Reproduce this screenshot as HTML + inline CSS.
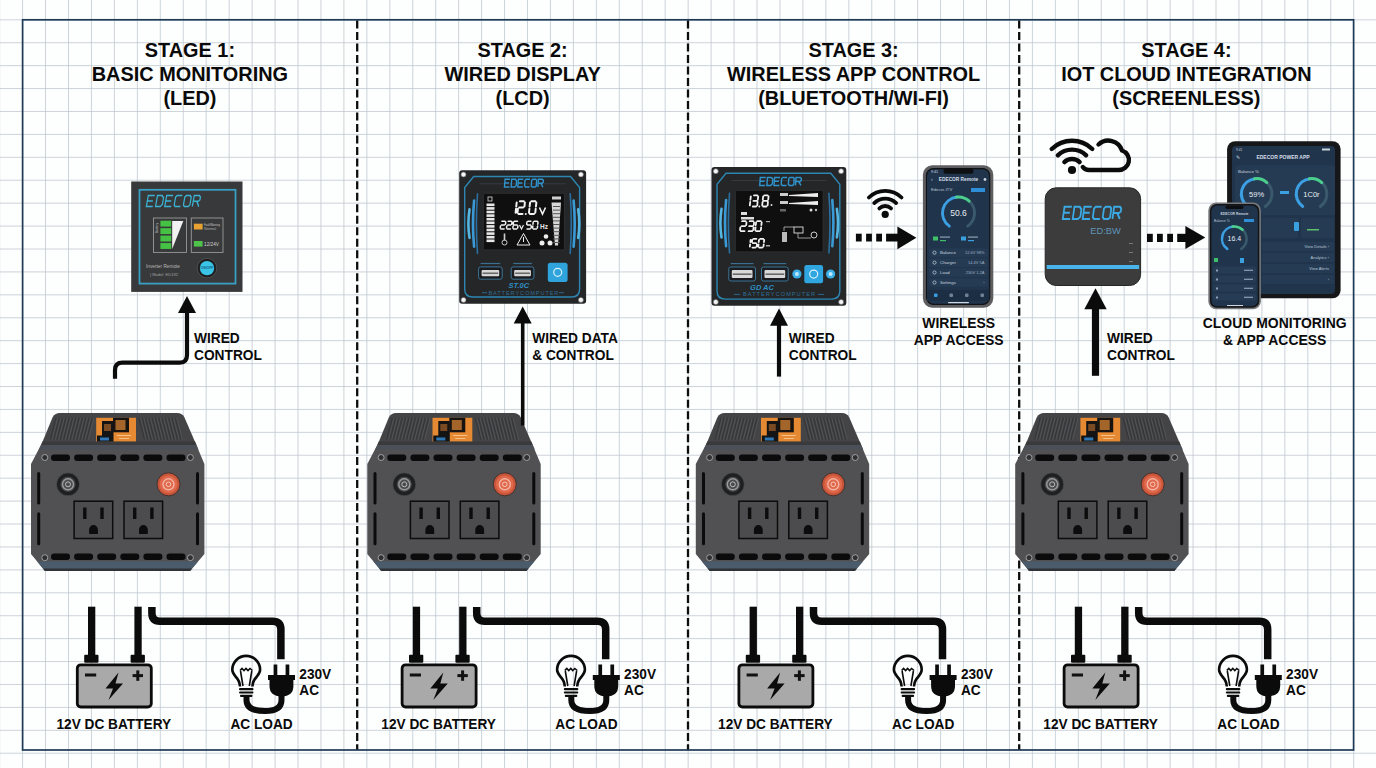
<!DOCTYPE html><html><head><meta charset="utf-8"><style>
html,body{margin:0;padding:0;background:#fdfefe;width:1376px;height:768px;overflow:hidden}
svg{display:block}
text{font-family:"Liberation Sans", sans-serif;}
</style></head><body>
<svg width="1376" height="768" viewBox="0 0 1376 768">
<defs>
<g id="inv">
<path d="M21.5 4.5 Q23.5 0 29 0 L146 0 Q151.5 0 153.5 4.5 L164.5 30 L11 30 Z" fill="#444446"/>
<line x1="25.0" y1="5" x2="19.5" y2="26.5" stroke="#36373a" stroke-width="1.2"/><line x1="26.6" y1="5" x2="21.1" y2="26.5" stroke="#545558" stroke-width="0.9"/><line x1="28.3" y1="5" x2="22.8" y2="26.5" stroke="#36373a" stroke-width="1.2"/><line x1="29.9" y1="5" x2="24.4" y2="26.5" stroke="#545558" stroke-width="0.9"/><line x1="31.6" y1="5" x2="26.1" y2="26.5" stroke="#36373a" stroke-width="1.2"/><line x1="33.2" y1="5" x2="27.7" y2="26.5" stroke="#545558" stroke-width="0.9"/><line x1="34.9" y1="5" x2="29.4" y2="26.5" stroke="#36373a" stroke-width="1.2"/><line x1="36.5" y1="5" x2="31.0" y2="26.5" stroke="#545558" stroke-width="0.9"/><line x1="38.2" y1="5" x2="32.7" y2="26.5" stroke="#36373a" stroke-width="1.2"/><line x1="39.8" y1="5" x2="34.3" y2="26.5" stroke="#545558" stroke-width="0.9"/><line x1="41.5" y1="5" x2="36.0" y2="26.5" stroke="#36373a" stroke-width="1.2"/><line x1="43.1" y1="5" x2="37.6" y2="26.5" stroke="#545558" stroke-width="0.9"/><line x1="44.8" y1="5" x2="39.3" y2="26.5" stroke="#36373a" stroke-width="1.2"/><line x1="46.4" y1="5" x2="40.9" y2="26.5" stroke="#545558" stroke-width="0.9"/><line x1="48.1" y1="5" x2="42.6" y2="26.5" stroke="#36373a" stroke-width="1.2"/><line x1="49.7" y1="5" x2="44.2" y2="26.5" stroke="#545558" stroke-width="0.9"/><line x1="51.4" y1="5" x2="45.9" y2="26.5" stroke="#36373a" stroke-width="1.2"/><line x1="53.0" y1="5" x2="47.5" y2="26.5" stroke="#545558" stroke-width="0.9"/><line x1="54.7" y1="5" x2="49.2" y2="26.5" stroke="#36373a" stroke-width="1.2"/><line x1="56.3" y1="5" x2="50.8" y2="26.5" stroke="#545558" stroke-width="0.9"/><line x1="58.0" y1="5" x2="52.5" y2="26.5" stroke="#36373a" stroke-width="1.2"/><line x1="59.6" y1="5" x2="54.1" y2="26.5" stroke="#545558" stroke-width="0.9"/><line x1="61.3" y1="5" x2="55.8" y2="26.5" stroke="#36373a" stroke-width="1.2"/><line x1="62.9" y1="5" x2="57.4" y2="26.5" stroke="#545558" stroke-width="0.9"/><line x1="108.0" y1="5" x2="113.5" y2="26.5" stroke="#36373a" stroke-width="1.2"/><line x1="109.6" y1="5" x2="115.1" y2="26.5" stroke="#545558" stroke-width="0.9"/><line x1="111.3" y1="5" x2="116.8" y2="26.5" stroke="#36373a" stroke-width="1.2"/><line x1="112.9" y1="5" x2="118.4" y2="26.5" stroke="#545558" stroke-width="0.9"/><line x1="114.6" y1="5" x2="120.1" y2="26.5" stroke="#36373a" stroke-width="1.2"/><line x1="116.2" y1="5" x2="121.7" y2="26.5" stroke="#545558" stroke-width="0.9"/><line x1="117.9" y1="5" x2="123.4" y2="26.5" stroke="#36373a" stroke-width="1.2"/><line x1="119.5" y1="5" x2="125.0" y2="26.5" stroke="#545558" stroke-width="0.9"/><line x1="121.2" y1="5" x2="126.7" y2="26.5" stroke="#36373a" stroke-width="1.2"/><line x1="122.8" y1="5" x2="128.3" y2="26.5" stroke="#545558" stroke-width="0.9"/><line x1="124.5" y1="5" x2="130.0" y2="26.5" stroke="#36373a" stroke-width="1.2"/><line x1="126.1" y1="5" x2="131.6" y2="26.5" stroke="#545558" stroke-width="0.9"/><line x1="127.8" y1="5" x2="133.3" y2="26.5" stroke="#36373a" stroke-width="1.2"/><line x1="129.4" y1="5" x2="134.9" y2="26.5" stroke="#545558" stroke-width="0.9"/><line x1="131.1" y1="5" x2="136.6" y2="26.5" stroke="#36373a" stroke-width="1.2"/><line x1="132.7" y1="5" x2="138.2" y2="26.5" stroke="#545558" stroke-width="0.9"/><line x1="134.4" y1="5" x2="139.9" y2="26.5" stroke="#36373a" stroke-width="1.2"/><line x1="136.0" y1="5" x2="141.5" y2="26.5" stroke="#545558" stroke-width="0.9"/><line x1="137.7" y1="5" x2="143.2" y2="26.5" stroke="#36373a" stroke-width="1.2"/><line x1="139.3" y1="5" x2="144.8" y2="26.5" stroke="#545558" stroke-width="0.9"/><line x1="141.0" y1="5" x2="146.5" y2="26.5" stroke="#36373a" stroke-width="1.2"/><line x1="142.6" y1="5" x2="148.1" y2="26.5" stroke="#545558" stroke-width="0.9"/><line x1="144.3" y1="5" x2="149.8" y2="26.5" stroke="#36373a" stroke-width="1.2"/><line x1="145.9" y1="5" x2="151.4" y2="26.5" stroke="#545558" stroke-width="0.9"/>
<rect x="65.2" y="4.8" width="39.8" height="24" fill="#e58a32"/>
<rect x="71" y="8" width="11.5" height="15" fill="#141414"/>
<rect x="73" y="11" width="7" height="7" fill="#7a4a22"/>
<rect x="66" y="22.5" width="16.5" height="6.3" fill="#121416"/>
<rect x="69" y="24.5" width="9" height="3" fill="#2e78b8"/>
<rect x="82" y="4.8" width="16" height="14.5" fill="#161311"/>
<rect x="84.5" y="7" width="10" height="10" fill="#a4652a"/>
<rect x="86" y="22" width="14" height="1" fill="#f3c08a"/><rect x="88" y="25" width="10" height="1" fill="#f3c08a"/>
<path d="M11 30 L164.5 30 L173.4 51 L173.4 141 L159 158 L14 158 L0 141 L0 51 Z" fill="#515153"/>
<path d="M11.5 28.5 L164 28.5 L165.5 32 L10 32 Z" fill="#3a3a3c"/><path d="M10 32 L165.5 32 L167.5 36.5 L8 36.5 Z" fill="#4b5058"/>
<path d="M6.2 148.5 L14 158 L159 158 L167 148.5 Z" fill="#4a5c6c"/><path d="M12 155.5 L161.2 155.5 L159 158 L14 158 Z" fill="#303236"/>
<rect x="20.0" y="41.5" width="19" height="6.5" rx="3" fill="#0b0b0c"/><rect x="43.1" y="41.5" width="19" height="6.5" rx="3" fill="#0b0b0c"/><rect x="66.2" y="41.5" width="19" height="6.5" rx="3" fill="#0b0b0c"/><rect x="89.3" y="41.5" width="19" height="6.5" rx="3" fill="#0b0b0c"/><rect x="112.4" y="41.5" width="19" height="6.5" rx="3" fill="#0b0b0c"/><rect x="135.5" y="41.5" width="19" height="6.5" rx="3" fill="#0b0b0c"/><rect x="20.0" y="140.5" width="19" height="6.5" rx="3" fill="#0b0b0c"/><rect x="43.1" y="140.5" width="19" height="6.5" rx="3" fill="#0b0b0c"/><rect x="66.2" y="140.5" width="19" height="6.5" rx="3" fill="#0b0b0c"/><rect x="89.3" y="140.5" width="19" height="6.5" rx="3" fill="#0b0b0c"/><rect x="112.4" y="140.5" width="19" height="6.5" rx="3" fill="#0b0b0c"/><rect x="135.5" y="140.5" width="19" height="6.5" rx="3" fill="#0b0b0c"/>
<circle cx="13.8" cy="44.5" r="3" fill="#2f3032" stroke="#a9a9a9" stroke-width="0.9"/>
<circle cx="159.4" cy="44.5" r="3" fill="#2f3032" stroke="#a9a9a9" stroke-width="0.9"/>
<circle cx="13.8" cy="144.7" r="3" fill="#2f3032" stroke="#a9a9a9" stroke-width="0.9"/>
<circle cx="159.4" cy="144.7" r="3" fill="#2f3032" stroke="#a9a9a9" stroke-width="0.9"/>
<rect x="6.2" y="59" width="3" height="32.4" rx="1.5" fill="#0b0b0c"/>
<rect x="6.2" y="99.3" width="3" height="33" rx="1.5" fill="#0b0b0c"/>
<rect x="165" y="59" width="3" height="32.4" rx="1.5" fill="#0b0b0c"/>
<rect x="165" y="99.3" width="3" height="33" rx="1.5" fill="#0b0b0c"/>
<circle cx="37" cy="71.3" r="11.5" fill="#1f2022" stroke="#555" stroke-width="0.6"/>
<circle cx="37" cy="71.3" r="7.5" fill="#4a4b4d"/>
<circle cx="37" cy="71.3" r="5.5" fill="none" stroke="#9b9b9b" stroke-width="1.4"/>
<circle cx="37" cy="71.3" r="2.5" fill="none" stroke="#bdbdbd" stroke-width="1"/>
<circle cx="137.5" cy="71.3" r="11.5" fill="#c9553a" stroke="#2a2a2a" stroke-width="0.8"/>
<circle cx="137.5" cy="71.3" r="8.8" fill="#e0694c"/>
<circle cx="137.5" cy="71.3" r="5.5" fill="none" stroke="#f4b3a2" stroke-width="1.4"/>
<circle cx="137.5" cy="71.3" r="2.3" fill="none" stroke="#f7c9bc" stroke-width="1"/>
<rect x="43.1" y="88.2" width="38.6" height="37.3" fill="#4c4c4e" stroke="#0c0c0d" stroke-width="1.5"/><rect x="52.1" y="94.5" width="3.4" height="11.5" fill="#0c0c0d"/><rect x="69.3" y="94.5" width="3.4" height="11.5" fill="#0c0c0d"/><path d="M58.1 121 v-4.5 a4.4 4.4 0 0 1 8.8 0 v4.5 z" fill="#0c0c0d"/><rect x="93" y="88.2" width="38.6" height="37.3" fill="#4c4c4e" stroke="#0c0c0d" stroke-width="1.5"/><rect x="102" y="94.5" width="3.4" height="11.5" fill="#0c0c0d"/><rect x="119.2" y="94.5" width="3.4" height="11.5" fill="#0c0c0d"/><path d="M108 121 v-4.5 a4.4 4.4 0 0 1 8.8 0 v4.5 z" fill="#0c0c0d"/>
</g>
<g id="bl">
<rect x="88" y="606.7" width="7.3" height="50" fill="#0b0b0b"/>
<rect x="84.2" y="654.7" width="14.3" height="8" rx="1" fill="#0b0b0b"/>
<rect x="134.4" y="606.7" width="7.3" height="50" fill="#0b0b0b"/>
<rect x="130.6" y="654.7" width="14.3" height="8" rx="1" fill="#0b0b0b"/>
<rect x="77.3" y="664.8" width="74" height="42.2" rx="3.5" fill="#a9a9a9" stroke="#0b0b0b" stroke-width="2.8"/>
<rect x="85" y="673.5" width="11.2" height="3" fill="#111"/>
<rect x="132.6" y="674.1" width="10.4" height="3" fill="#111"/>
<rect x="136.3" y="670.4" width="3" height="10.4" fill="#111"/>
<path d="M118.5 672.6 L105.5 688.5 L113 688.5 L108.5 700 L123 683.5 L115.5 683.5 Z" fill="#0b0b0b"/>
<path d="M151.9 606.9 L151.9 613 Q151.9 621.3 160 621.3 L272.5 621.3 Q280.9 621.3 280.9 629.5 L280.9 659.3" fill="none" stroke="#0b0b0b" stroke-width="7.5"/>
<rect x="273.6" y="664.5" width="3.7" height="11" fill="#0b0b0b"/>
<rect x="285.6" y="664.5" width="3.7" height="11" fill="#0b0b0b"/>
<path d="M268 674.9 L295 674.9 L295 680.1 L293.4 680.1 L293.4 686 Q293.4 696.3 281.5 696.3 Q269.5 696.3 269.5 686 L269.5 680.1 L268 680.1 Z" fill="#0b0b0b"/>
<path d="M281.5 695 L281.5 700 Q281.5 711 265 711 Q246.5 711 246.5 700 L246.5 695" fill="none" stroke="#0b0b0b" stroke-width="6"/>
<path d="M240 686.5 Q239.8 681 235.5 676.5 Q232.3 672.5 232.3 669.8 A13.9 13.9 0 0 1 260.1 669.8 Q260.1 672.5 256.9 676.5 Q252.6 681 252.4 686.5" fill="none" stroke="#0b0b0b" stroke-width="2.6"/>
<path d="M240.5 671 L243 686 M251.8 671 L249.3 686 M240 670.5 L242 668.5 L244 670.5 L246 668.5 L248 670.5 L250 668.5 L252.5 670.5" fill="none" stroke="#0b0b0b" stroke-width="1.6"/>
<rect x="239" y="688" width="14.5" height="2.2" rx="1" fill="#0b0b0b"/>
<rect x="239" y="691.4" width="14.5" height="2.2" rx="1" fill="#0b0b0b"/>
<rect x="240" y="694.8" width="12.5" height="2.2" rx="1" fill="#0b0b0b"/>
</g>
</defs>
<path d="M-0.35 0V768M22.60 0V768M45.55 0V768M68.50 0V768M91.45 0V768M114.40 0V768M137.35 0V768M160.30 0V768M183.25 0V768M206.20 0V768M229.15 0V768M252.10 0V768M275.05 0V768M298.00 0V768M320.95 0V768M343.90 0V768M366.85 0V768M389.80 0V768M412.75 0V768M435.70 0V768M458.65 0V768M481.60 0V768M504.55 0V768M527.50 0V768M550.45 0V768M573.40 0V768M596.35 0V768M619.30 0V768M642.25 0V768M665.20 0V768M688.15 0V768M711.10 0V768M734.05 0V768M757.00 0V768M779.95 0V768M802.90 0V768M825.85 0V768M848.80 0V768M871.75 0V768M894.70 0V768M917.65 0V768M940.60 0V768M963.55 0V768M986.50 0V768M1009.45 0V768M1032.40 0V768M1055.35 0V768M1078.30 0V768M1101.25 0V768M1124.20 0V768M1147.15 0V768M1170.10 0V768M1193.05 0V768M1216.00 0V768M1238.95 0V768M1261.90 0V768M1284.85 0V768M1307.80 0V768M1330.75 0V768M1353.70 0V768M0 -3.12H1376M0 19.80H1376M0 42.72H1376M0 65.64H1376M0 88.56H1376M0 111.48H1376M0 134.40H1376M0 157.32H1376M0 180.24H1376M0 203.16H1376M0 226.08H1376M0 249.00H1376M0 271.92H1376M0 294.84H1376M0 317.76H1376M0 340.68H1376M0 363.60H1376M0 386.52H1376M0 409.44H1376M0 432.36H1376M0 455.28H1376M0 478.20H1376M0 501.12H1376M0 524.04H1376M0 546.96H1376M0 569.88H1376M0 592.80H1376M0 615.72H1376M0 638.64H1376M0 661.56H1376M0 684.48H1376M0 707.40H1376M0 730.32H1376M0 753.24H1376" stroke="#bcc6cd" stroke-width="0.75" fill="none"/>
<rect x="22.6" y="19.8" width="1331" height="730.2" fill="none" stroke="#1d3a56" stroke-width="1.7"/>
<line x1="357.2" y1="20.5" x2="357.2" y2="749.5" stroke="#0d0d0d" stroke-width="2.3" stroke-dasharray="8 3.49"/>
<line x1="688" y1="20.5" x2="688" y2="749.5" stroke="#0d0d0d" stroke-width="2.3" stroke-dasharray="8 3.49"/>
<line x1="1019.2" y1="20.5" x2="1019.2" y2="749.5" stroke="#0d0d0d" stroke-width="2.3" stroke-dasharray="8 3.49"/>
<text x="189.9" y="56.5" font-size="19.9" font-weight="bold" text-anchor="middle" fill="#0a0a0a">STAGE 1:</text>
<text x="189.9" y="80.5" font-size="19.9" font-weight="bold" text-anchor="middle" fill="#0a0a0a">BASIC MONITORING</text>
<text x="189.9" y="104.5" font-size="19.9" font-weight="bold" text-anchor="middle" fill="#0a0a0a">(LED)</text>
<text x="522.6" y="56.5" font-size="19.9" font-weight="bold" text-anchor="middle" fill="#0a0a0a">STAGE 2:</text>
<text x="522.6" y="80.5" font-size="19.9" font-weight="bold" text-anchor="middle" fill="#0a0a0a">WIRED DISPLAY</text>
<text x="522.6" y="104.5" font-size="19.9" font-weight="bold" text-anchor="middle" fill="#0a0a0a">(LCD)</text>
<text x="853.6" y="56.5" font-size="19.9" font-weight="bold" text-anchor="middle" fill="#0a0a0a">STAGE 3:</text>
<text x="853.6" y="80.5" font-size="19.9" font-weight="bold" text-anchor="middle" fill="#0a0a0a">WIRELESS APP CONTROL</text>
<text x="853.6" y="104.5" font-size="19.9" font-weight="bold" text-anchor="middle" fill="#0a0a0a">(BLUETOOTH/WI-FI)</text>
<text x="1186.4" y="56.5" font-size="19.9" font-weight="bold" text-anchor="middle" fill="#0a0a0a">STAGE 4:</text>
<text x="1186.4" y="80.5" font-size="19.9" font-weight="bold" text-anchor="middle" fill="#0a0a0a">IOT CLOUD INTEGRATION</text>
<text x="1186.4" y="104.5" font-size="19.9" font-weight="bold" text-anchor="middle" fill="#0a0a0a">(SCREENLESS)</text>
<use href="#inv" x="31" y="413"/>
<use href="#inv" x="367.3" y="413"/>
<use href="#inv" x="695.8" y="413"/>
<use href="#inv" x="1015.2" y="413"/>
<use href="#bl" x="0" y="0"/>
<text transform="translate(113.80 728.60) scale(0.9 1)" font-size="15.2" font-weight="bold" text-anchor="middle" fill="#0a0a0a">12V DC BATTERY</text>
<text transform="translate(261.60 728.60) scale(0.9 1)" font-size="15.2" font-weight="bold" text-anchor="middle" fill="#0a0a0a">AC LOAD</text>
<text transform="translate(299.30 678.60) scale(0.9 1)" font-size="15.2" font-weight="bold" text-anchor="start" fill="#0a0a0a">230V</text>
<text transform="translate(299.30 695.40) scale(0.9 1)" font-size="15.2" font-weight="bold" text-anchor="start" fill="#0a0a0a">AC</text>
<use href="#bl" x="324.8" y="0"/>
<text transform="translate(438.60 728.60) scale(0.9 1)" font-size="15.2" font-weight="bold" text-anchor="middle" fill="#0a0a0a">12V DC BATTERY</text>
<text transform="translate(586.40 728.60) scale(0.9 1)" font-size="15.2" font-weight="bold" text-anchor="middle" fill="#0a0a0a">AC LOAD</text>
<text transform="translate(624.10 678.60) scale(0.9 1)" font-size="15.2" font-weight="bold" text-anchor="start" fill="#0a0a0a">230V</text>
<text transform="translate(624.10 695.40) scale(0.9 1)" font-size="15.2" font-weight="bold" text-anchor="start" fill="#0a0a0a">AC</text>
<use href="#bl" x="661.6" y="0"/>
<text transform="translate(775.40 728.60) scale(0.9 1)" font-size="15.2" font-weight="bold" text-anchor="middle" fill="#0a0a0a">12V DC BATTERY</text>
<text transform="translate(923.20 728.60) scale(0.9 1)" font-size="15.2" font-weight="bold" text-anchor="middle" fill="#0a0a0a">AC LOAD</text>
<text transform="translate(960.90 678.60) scale(0.9 1)" font-size="15.2" font-weight="bold" text-anchor="start" fill="#0a0a0a">230V</text>
<text transform="translate(960.90 695.40) scale(0.9 1)" font-size="15.2" font-weight="bold" text-anchor="start" fill="#0a0a0a">AC</text>
<use href="#bl" x="986.8" y="0"/>
<text transform="translate(1100.60 728.60) scale(0.9 1)" font-size="15.2" font-weight="bold" text-anchor="middle" fill="#0a0a0a">12V DC BATTERY</text>
<text transform="translate(1248.40 728.60) scale(0.9 1)" font-size="15.2" font-weight="bold" text-anchor="middle" fill="#0a0a0a">AC LOAD</text>
<text transform="translate(1286.10 678.60) scale(0.9 1)" font-size="15.2" font-weight="bold" text-anchor="start" fill="#0a0a0a">230V</text>
<text transform="translate(1286.10 695.40) scale(0.9 1)" font-size="15.2" font-weight="bold" text-anchor="start" fill="#0a0a0a">AC</text>
<text transform="translate(194.00 342.60) scale(0.935 1)" font-size="14.7" font-weight="bold" text-anchor="start" fill="#0a0a0a">WIRED</text>
<text transform="translate(194.00 359.60) scale(0.935 1)" font-size="14.7" font-weight="bold" text-anchor="start" fill="#0a0a0a">CONTROL</text>
<text transform="translate(532.20 342.70) scale(0.935 1)" font-size="14.7" font-weight="bold" text-anchor="start" fill="#0a0a0a">WIRED DATA</text>
<text transform="translate(532.20 359.70) scale(0.935 1)" font-size="14.7" font-weight="bold" text-anchor="start" fill="#0a0a0a">&amp; CONTROL</text>
<text transform="translate(788.80 342.60) scale(0.935 1)" font-size="14.7" font-weight="bold" text-anchor="start" fill="#0a0a0a">WIRED</text>
<text transform="translate(788.80 359.60) scale(0.935 1)" font-size="14.7" font-weight="bold" text-anchor="start" fill="#0a0a0a">CONTROL</text>
<text transform="translate(1107.00 342.60) scale(0.935 1)" font-size="14.7" font-weight="bold" text-anchor="start" fill="#0a0a0a">WIRED</text>
<text transform="translate(1107.00 359.60) scale(0.935 1)" font-size="14.7" font-weight="bold" text-anchor="start" fill="#0a0a0a">CONTROL</text>
<text transform="translate(958.70 327.80) scale(0.95 1)" font-size="14.7" font-weight="bold" text-anchor="middle" fill="#0a0a0a">WIRELESS</text>
<text transform="translate(958.70 344.80) scale(0.95 1)" font-size="14.7" font-weight="bold" text-anchor="middle" fill="#0a0a0a">APP ACCESS</text>
<text transform="translate(1274.70 327.80) scale(0.95 1)" font-size="14.7" font-weight="bold" text-anchor="middle" fill="#0a0a0a">CLOUD MONITORING</text>
<text transform="translate(1274.70 344.80) scale(0.95 1)" font-size="14.7" font-weight="bold" text-anchor="middle" fill="#0a0a0a">&amp; APP ACCESS</text>
<path d="M115 378.7 V370 Q115 362.6 122.5 362.6 H180 Q187 362.6 187 355 V310" fill="none" stroke="#0b0b0b" stroke-width="4.2"/>
<path d="M187 295.9 L196 313 L178 313 Z" fill="#0b0b0b"/>
<line x1="522.7" y1="322" x2="522.7" y2="425.5" stroke="#0b0b0b" stroke-width="3.6"/>
<path d="M522.7 306.4 L531.7 323.5 L513.7 323.5 Z" fill="#0b0b0b"/>
<line x1="779" y1="324" x2="779" y2="376.6" stroke="#0b0b0b" stroke-width="4.2"/>
<path d="M779 308.6 L788 325.8 L770 325.8 Z" fill="#0b0b0b"/>
<line x1="1095.5" y1="307" x2="1095.5" y2="375.8" stroke="#0b0b0b" stroke-width="7.2"/>
<path d="M1095.5 288.2 L1106.7 309.2 L1084.3 309.2 Z" fill="#0b0b0b"/>
<rect x="855.9" y="233.7" width="5.8" height="7.800000000000011" fill="#0b0b0b"/>
<rect x="866.1" y="233.7" width="5.8" height="7.800000000000011" fill="#0b0b0b"/>
<rect x="876.2" y="233.7" width="5.8" height="7.800000000000011" fill="#0b0b0b"/>
<rect x="886.1" y="233.7" width="12.299999999999955" height="7.800000000000011" fill="#0b0b0b"/>
<path d="M897.4 226.4 L916.4 237.85000000000002 L897.4 249.3 Z" fill="#0b0b0b"/>
<rect x="1147" y="233.8" width="5.8" height="8.199999999999989" fill="#0b0b0b"/>
<rect x="1157" y="233.8" width="5.8" height="8.199999999999989" fill="#0b0b0b"/>
<rect x="1167.2" y="233.8" width="5.8" height="8.199999999999989" fill="#0b0b0b"/>
<rect x="1177.2" y="233.8" width="9.200000000000045" height="8.199999999999989" fill="#0b0b0b"/>
<path d="M1185.4 226.1 L1205.3 237.55 L1185.4 249 Z" fill="#0b0b0b"/>
<circle cx="885.2" cy="214.4" r="3.6" fill="#0b0b0b"/>
<path d="M879.36 208.36 A8.4 8.4 0 0 1 891.04 208.36" fill="none" stroke="#0b0b0b" stroke-width="3.8" stroke-linecap="round"/>
<path d="M874.22 203.03 A15.8 15.8 0 0 1 896.18 203.03" fill="none" stroke="#0b0b0b" stroke-width="3.8" stroke-linecap="round"/>
<path d="M868.88 197.50 A23.5 23.5 0 0 1 901.52 197.50" fill="none" stroke="#0b0b0b" stroke-width="3.8" stroke-linecap="round"/>
<circle cx="1072" cy="170" r="4.1" fill="#0b0b0b"/>
<path d="M1064.36 162.09 A11 11 0 0 1 1079.64 162.09" fill="none" stroke="#0b0b0b" stroke-width="4.4" stroke-linecap="round"/>
<path d="M1057.83 155.33 A20.4 20.4 0 0 1 1086.17 155.33" fill="none" stroke="#0b0b0b" stroke-width="4.4" stroke-linecap="round"/>
<path d="M1051.72 149.00 A29.2 29.2 0 0 1 1092.28 149.00" fill="none" stroke="#0b0b0b" stroke-width="4.4" stroke-linecap="round"/>
<path d="M1098.5 144.5 A14.4 14.4 0 0 1 1122 150.5 A10 10 0 0 1 1118.5 170 H1089 Q1085 170 1082.8 167" fill="none" stroke="#0b0b0b" stroke-width="4.4" stroke-linecap="round" stroke-linejoin="round"/>
<rect x="131.2" y="181.5" width="111.3" height="110.4" fill="#38393a"/>
<rect x="139.5" y="189.8" width="96" height="93.8" fill="none" stroke="#3a9fc4" stroke-width="1.8"/>
<g transform="translate(148.3 195.6) skewX(-10) scale(7.857)" fill="none" stroke="#3bb3d3" stroke-width="0.191"  stroke-linejoin="miter"><path transform="translate(0.000 0) scale(0.82 1)" d="M1 0H0V1.4H1M0 0.68H0.85"/><path transform="translate(1.170 0) scale(0.82 1)" d="M0 0H0.72L1 0.28V1.12L0.72 1.4H0Z"/><path transform="translate(2.340 0) scale(0.82 1)" d="M1 0H0V1.4H1M0 0.68H0.85"/><path transform="translate(3.510 0) scale(0.82 1)" d="M1 0H0.2L0 0.2V1.2L0.2 1.4H1"/><path transform="translate(4.680 0) scale(0.82 1)" d="M0.2 0H0.8L1 0.2V1.2L0.8 1.4H0.2L0 1.2V0.2Z"/><path transform="translate(5.850 0) scale(0.82 1)" d="M0 1.4V0H0.8L1 0.2V0.55L0.8 0.72H0M0.55 0.72L1 1.4"/></g>
<rect x="153.5" y="218" width="33" height="34.4" fill="none" stroke="#9a9a9a" stroke-width="0.9"/>
<rect x="160.4" y="220.70" width="10.8" height="5.9" fill="#45c243"/>
<rect x="160.4" y="228.15" width="10.8" height="5.9" fill="#45c243"/>
<rect x="160.4" y="235.60" width="10.8" height="5.9" fill="#45c243"/>
<rect x="160.4" y="243.05" width="10.8" height="5.9" fill="#45c243"/>
<path d="M172.2 221 L183.3 221 L172.2 249 Z" fill="#f2f2f2"/>
<rect x="191.3" y="218" width="31.7" height="34.4" fill="none" stroke="#9a9a9a" stroke-width="0.9"/>
<rect x="193.9" y="223.7" width="8.7" height="5.8" fill="#e8a232"/>
<rect x="193.9" y="241" width="8.7" height="5.6" fill="#4fc24a"/>
<text x="204" y="226" font-size="3.6" fill="#c8c8c8" textLength="16" lengthAdjust="spacingAndGlyphs">Fault/Warning</text>
<text x="204" y="229.5" font-size="3.6" fill="#b0b0b0" textLength="12" lengthAdjust="spacingAndGlyphs">Normal</text>
<text x="204" y="246" font-size="4.6" fill="#d0d0d0" textLength="15" lengthAdjust="spacingAndGlyphs">12/24V</text>
<text x="159.5" y="235" font-size="3.6" fill="#cfcfcf" transform="rotate(-90 157.5 235)" textLength="10" lengthAdjust="spacingAndGlyphs">Battery</text>
<text x="146" y="268.3" font-size="4.6" fill="#b8b8b8" textLength="34" lengthAdjust="spacingAndGlyphs">Inverter Remote</text>
<text x="150" y="275.5" font-size="4.2" fill="#a0a0a0" textLength="28" lengthAdjust="spacingAndGlyphs">| Model: ED192</text>
<circle cx="207" cy="268.1" r="9.8" fill="#1d1f21" stroke="#555" stroke-width="0.8"/>
<circle cx="207" cy="268.1" r="7.2" fill="#3ac5e6"/>
<text x="207" y="269.3" font-size="3.4" fill="#125f85" text-anchor="middle" font-weight="bold">ON/OFF</text>
<rect x="459.2" y="170.3" width="126.9" height="133.4" rx="3" fill="#252627"/>
<circle cx="463.5" cy="174.5" r="2.5" fill="#f4f4f4" stroke="#666" stroke-width="0.6"/>
<circle cx="463.5" cy="299.9" r="2.5" fill="#f4f4f4" stroke="#666" stroke-width="0.6"/>
<circle cx="580.9" cy="174.5" r="2.5" fill="#f4f4f4" stroke="#666" stroke-width="0.6"/>
<circle cx="580.9" cy="299.9" r="2.5" fill="#f4f4f4" stroke="#666" stroke-width="0.6"/>
<path d="M473.7 176.5 H570.6 L579.6 187.5 V289.00000000000006 Q579.6 297.00000000000006 571.6 297.00000000000006 H472.7 Q464.7 297.00000000000006 464.7 289.00000000000006 V187.5 Z" fill="none" stroke="#2d86b2" stroke-width="1.4"/>
<line x1="479.2" y1="183.8" x2="566.1" y2="183.8" stroke="#3a4048" stroke-width="0.8"/>
<path d="M469.5 209.4 Q467.3 223.6 469.5 237.9" fill="none" stroke="#56b6e2" stroke-width="2.6" stroke-linecap="round"/>
<path d="M474.1 200.6 Q471.9 223.6 474.1 246.6" fill="none" stroke="#3a9ad6" stroke-width="2.6" stroke-linecap="round"/>
<path d="M477.5 193.8 Q475.3 223.6 477.5 253.4" fill="none" stroke="#2a6fa0" stroke-width="1.6" stroke-linecap="round"/>
<path d="M578.2 209.4 Q580.4 223.6 578.2 237.9" fill="none" stroke="#56b6e2" stroke-width="2.6" stroke-linecap="round"/>
<path d="M573.6 200.6 Q575.8 223.6 573.6 246.6" fill="none" stroke="#3a9ad6" stroke-width="2.6" stroke-linecap="round"/>
<path d="M570.2 193.8 Q572.4 223.6 570.2 253.4" fill="none" stroke="#2a6fa0" stroke-width="1.6" stroke-linecap="round"/>
<rect x="483.3" y="193.3" width="81.09999999999997" height="56.599999999999994" rx="1.5" fill="#0f0f10" stroke="#303236" stroke-width="0.9"/>
<g transform="translate(505 179.3) skewX(-4) scale(5.571)" fill="none" stroke="#2f93cc" stroke-width="0.269"  stroke-linejoin="miter"><path transform="translate(0.000 0) scale(0.9 1)" d="M1 0H0V1.4H1M0 0.68H0.85"/><path transform="translate(1.200 0) scale(0.9 1)" d="M0 0H0.72L1 0.28V1.12L0.72 1.4H0Z"/><path transform="translate(2.400 0) scale(0.9 1)" d="M1 0H0V1.4H1M0 0.68H0.85"/><path transform="translate(3.600 0) scale(0.9 1)" d="M1 0H0.2L0 0.2V1.2L0.2 1.4H1"/><path transform="translate(4.800 0) scale(0.9 1)" d="M0.2 0H0.8L1 0.2V1.2L0.8 1.4H0.2L0 1.2V0.2Z"/><path transform="translate(6.000 0) scale(0.9 1)" d="M0 1.4V0H0.8L1 0.2V0.55L0.8 0.72H0M0.55 0.72L1 1.4"/></g>
<rect x="486.5" y="203.5" width="8" height="2.6" fill="#e8e8e8"/>
<rect x="486.5" y="207.1" width="8" height="2.6" fill="#e8e8e8"/>
<rect x="486.5" y="210.7" width="8" height="2.6" fill="#e8e8e8"/>
<rect x="486.5" y="214.3" width="8" height="2.6" fill="#e8e8e8"/>
<rect x="486.5" y="217.9" width="8" height="2.6" fill="#e8e8e8"/>
<rect x="486.5" y="221.5" width="8" height="2.6" fill="#e8e8e8"/>
<rect x="486.5" y="225.1" width="8" height="2.6" fill="#e8e8e8"/>
<rect x="486.5" y="228.7" width="8" height="2.6" fill="#e8e8e8"/>
<rect x="486.5" y="232.3" width="8" height="2.6" fill="#e8e8e8"/>
<rect x="486.5" y="235.9" width="8" height="2.6" fill="#e8e8e8"/>
<rect x="486.5" y="239.5" width="8" height="2.6" fill="#e8e8e8"/>
<rect x="488" y="197" width="4" height="4" fill="none" stroke="#ddd" stroke-width="0.8"/>
<path transform="translate(510.5 201.3) skewX(-6)" d="M6.30 1.20L6.30 5.10M6.30 7.50L6.30 11.40M9.40 0.00L13.30 0.00M14.50 1.20L14.50 5.10M9.40 6.30L13.30 6.30M8.20 7.50L8.20 11.40M9.40 12.60L13.30 12.60M16.60 12.60h0.01M20.88 0.00L24.78 0.00M25.98 1.20L25.98 5.10M25.98 7.50L25.98 11.40M20.88 12.60L24.78 12.60M19.68 7.50L19.68 11.40M19.68 1.20L19.68 5.10" fill="none" stroke="#f2f2f2" stroke-width="2.0" stroke-linecap="round"/>
<path d="M539.5 207.5 L542.5 214 L545.5 207.5" fill="none" stroke="#f2f2f2" stroke-width="1.6"/>
<path transform="translate(501 221.2) skewX(-6)" d="M0.90 0.00L3.90 0.00M4.80 0.90L4.80 3.00M0.90 3.90L3.90 3.90M0.00 4.80L0.00 6.90M0.90 7.80L3.90 7.80M7.20 0.00L10.20 0.00M11.10 0.90L11.10 3.00M7.20 3.90L10.20 3.90M6.30 4.80L6.30 6.90M7.20 7.80L10.20 7.80M13.50 0.00L16.50 0.00M12.60 0.90L12.60 3.00M13.50 3.90L16.50 3.90M12.60 4.80L12.60 6.90M13.50 7.80L16.50 7.80M17.40 4.80L17.40 6.90" fill="none" stroke="#f2f2f2" stroke-width="1.5" stroke-linecap="round"/>
<path d="M519.5 225 L521.5 229 L523.5 225" fill="none" stroke="#eee" stroke-width="1.2"/>
<path transform="translate(527 221.2) skewX(-6)" d="M0.90 0.00L3.90 0.00M0.00 0.90L0.00 3.00M0.90 3.90L3.90 3.90M4.80 4.80L4.80 6.90M0.90 7.80L3.90 7.80M7.20 0.00L10.20 0.00M11.10 0.90L11.10 3.00M11.10 4.80L11.10 6.90M7.20 7.80L10.20 7.80M6.30 4.80L6.30 6.90M6.30 0.90L6.30 3.00" fill="none" stroke="#f2f2f2" stroke-width="1.5" stroke-linecap="round"/>
<text x="540" y="229" font-size="6.5" fill="#e8e8e8" font-weight="bold">Hz</text>
<path d="M523.5 233.5 L530 245 L517 245 Z" fill="none" stroke="#eee" stroke-width="1"/><rect x="523" y="237" width="1" height="5" fill="#eee"/>
<circle cx="504.5" cy="242.5" r="2.5" fill="none" stroke="#ddd" stroke-width="0.9"/><rect x="503.7" y="233.5" width="1.6" height="7" fill="#ccc"/>
<circle cx="546" cy="236.5" r="2.3" fill="#eee"/><circle cx="542" cy="243" r="2.5" fill="#eee"/><circle cx="550" cy="243" r="2.5" fill="#eee"/>
<path d="M551.5 202.5 L561 202.5 L558 245.5 L555 245.5 Z" fill="#d8d8d8"/>
<rect x="553" y="206.0" width="7" height="1" fill="#555"/>
<rect x="553" y="209.6" width="7" height="1" fill="#555"/>
<rect x="553" y="213.2" width="7" height="1" fill="#555"/>
<rect x="553" y="216.8" width="7" height="1" fill="#555"/>
<rect x="553" y="220.4" width="7" height="1" fill="#555"/>
<rect x="553" y="224.0" width="7" height="1" fill="#555"/>
<rect x="553" y="227.6" width="7" height="1" fill="#555"/>
<rect x="553" y="231.2" width="7" height="1" fill="#555"/>
<rect x="553" y="234.8" width="7" height="1" fill="#555"/>
<rect x="553" y="238.4" width="7" height="1" fill="#555"/>
<rect x="553" y="242.0" width="7" height="1" fill="#555"/>
<rect x="552" y="196.5" width="9" height="3" fill="#cfcfcf"/>
<rect x="478.6" y="266.9" width="23.6" height="12.3" rx="2" fill="#1a1c1f" stroke="#3f7fa6" stroke-width="0.9"/>
<rect x="481.6" y="269.9" width="17.6" height="6.300000000000001" rx="1" fill="#d8d8d8"/>
<rect x="482.6" y="272.44999999999993" width="15.600000000000001" height="1.6" fill="#6a6a6a"/>
<rect x="480.6" y="262.9" width="19.6" height="1.2" fill="#3a6f90"/>
<rect x="511.2" y="266.9" width="22.7" height="12.3" rx="2" fill="#1a1c1f" stroke="#3f7fa6" stroke-width="0.9"/>
<rect x="514.2" y="269.9" width="16.7" height="6.300000000000001" rx="1" fill="#d8d8d8"/>
<rect x="515.2" y="272.44999999999993" width="14.7" height="1.6" fill="#6a6a6a"/>
<rect x="513.2" y="262.9" width="18.7" height="1.2" fill="#3a6f90"/>
<rect x="547.8" y="262.7" width="19.8" height="19.3" rx="2.5" fill="#2fa3dc"/>
<circle cx="557.7" cy="272.3" r="4" fill="none" stroke="#d8f1ff" stroke-width="1.2"/>
<text x="518.8" y="287.8" font-size="7.5" fill="#2f8fc4" text-anchor="middle" font-weight="bold" font-style="italic">ST.0C</text>
<text x="523.4" y="294.6" font-size="5.6" fill="#2d6e96" text-anchor="middle" textLength="70" lengthAdjust="spacing">BATTERYCOMPUTER</text>
<path d="M482 292.7h5M559 292.7h5" stroke="#2d6e96" stroke-width="0.9"/>
<rect x="711.5" y="167" width="134.8" height="138.8" rx="3" fill="#252627"/>
<circle cx="715.8" cy="171.2" r="2.5" fill="#f4f4f4" stroke="#666" stroke-width="0.6"/>
<circle cx="715.8" cy="302.0" r="2.5" fill="#f4f4f4" stroke="#666" stroke-width="0.6"/>
<circle cx="841.1" cy="171.2" r="2.5" fill="#f4f4f4" stroke="#666" stroke-width="0.6"/>
<circle cx="841.1" cy="302.0" r="2.5" fill="#f4f4f4" stroke="#666" stroke-width="0.6"/>
<path d="M726.0 173.2 H830.8 L839.8 184.2 V291.1 Q839.8 299.1 831.8 299.1 H725.0 Q717.0 299.1 717.0 291.1 V184.2 Z" fill="none" stroke="#2d86b2" stroke-width="1.4"/>
<line x1="731.5" y1="180.5" x2="826.3" y2="180.5" stroke="#3a4048" stroke-width="0.8"/>
<path d="M721.5 208.9 Q719.3 223.1 721.5 237.4" fill="none" stroke="#56b6e2" stroke-width="2.6" stroke-linecap="round"/>
<path d="M726.1 200.1 Q723.9 223.1 726.1 246.1" fill="none" stroke="#3a9ad6" stroke-width="2.6" stroke-linecap="round"/>
<path d="M729.5 193.3 Q727.3 223.1 729.5 252.9" fill="none" stroke="#2a6fa0" stroke-width="1.6" stroke-linecap="round"/>
<path d="M836.9 208.9 Q839.1 223.1 836.9 237.4" fill="none" stroke="#56b6e2" stroke-width="2.6" stroke-linecap="round"/>
<path d="M832.3 200.1 Q834.5 223.1 832.3 246.1" fill="none" stroke="#3a9ad6" stroke-width="2.6" stroke-linecap="round"/>
<path d="M828.9 193.3 Q831.1 223.1 828.9 252.9" fill="none" stroke="#2a6fa0" stroke-width="1.6" stroke-linecap="round"/>
<rect x="735.3" y="190.3" width="87.80000000000007" height="61.599999999999994" rx="1.5" fill="#0f0f10" stroke="#303236" stroke-width="0.9"/>
<g transform="translate(760.3 177.4) skewX(-4) scale(5.714)" fill="none" stroke="#2f93cc" stroke-width="0.263"  stroke-linejoin="miter"><path transform="translate(0.000 0) scale(0.95 1)" d="M1 0H0V1.4H1M0 0.68H0.85"/><path transform="translate(1.250 0) scale(0.95 1)" d="M0 0H0.72L1 0.28V1.12L0.72 1.4H0Z"/><path transform="translate(2.500 0) scale(0.95 1)" d="M1 0H0V1.4H1M0 0.68H0.85"/><path transform="translate(3.750 0) scale(0.95 1)" d="M1 0H0.2L0 0.2V1.2L0.2 1.4H1"/><path transform="translate(5.000 0) scale(0.95 1)" d="M0.2 0H0.8L1 0.2V1.2L0.8 1.4H0.2L0 1.2V0.2Z"/><path transform="translate(6.250 0) scale(0.95 1)" d="M0 1.4V0H0.8L1 0.2V0.55L0.8 0.72H0M0.55 0.72L1 1.4"/></g>
<path transform="translate(745.5 195.3) skewX(-6)" d="M5.40 1.08L5.40 4.52M5.40 6.68L5.40 10.12M8.48 0.00L11.72 0.00M12.80 1.08L12.80 4.52M8.48 5.60L11.72 5.60M12.80 6.68L12.80 10.12M8.48 11.20L11.72 11.20M15.00 11.20h0.01M18.84 0.00L22.08 0.00M23.16 1.08L23.16 4.52M23.16 6.68L23.16 10.12M18.84 11.20L22.08 11.20M17.76 6.68L17.76 10.12M17.76 1.08L17.76 4.52M18.84 5.60L22.08 5.60" fill="none" stroke="#f2f2f2" stroke-width="1.8" stroke-linecap="round"/>
<circle cx="771.5" cy="205" r="1" fill="#ddd"/>
<path transform="translate(741 221.2) skewX(-6)" d="M1.08 0.00L4.52 0.00M5.60 1.08L5.60 3.92M1.08 5.00L4.52 5.00M0.00 6.08L0.00 8.92M1.08 10.00L4.52 10.00M8.68 0.00L12.12 0.00M13.20 1.08L13.20 3.92M8.68 5.00L12.12 5.00M13.20 6.08L13.20 8.92M8.68 10.00L12.12 10.00M16.28 0.00L19.72 0.00M20.80 1.08L20.80 3.92M20.80 6.08L20.80 8.92M16.28 10.00L19.72 10.00M15.20 6.08L15.20 8.92M15.20 1.08L15.20 3.92" fill="none" stroke="#f2f2f2" stroke-width="1.8" stroke-linecap="round"/>
<rect x="766" y="221" width="4" height="1.2" fill="#aaa"/>
<path transform="translate(745.5 238.8) skewX(-6)" d="M5.20 1.08L5.20 3.32M5.20 5.48L5.20 7.72M7.88 0.00L10.92 0.00M6.80 1.08L6.80 3.32M7.88 4.40L10.92 4.40M12.00 5.48L12.00 7.72M7.88 8.80L10.92 8.80M14.68 0.00L17.72 0.00M18.80 1.08L18.80 3.32M18.80 5.48L18.80 7.72M14.68 8.80L17.72 8.80M13.60 5.48L13.60 7.72M13.60 1.08L13.60 3.32" fill="none" stroke="#f2f2f2" stroke-width="1.8" stroke-linecap="round"/>
<rect x="766" y="245" width="4" height="1.5" fill="#aaa"/>
<rect x="741" y="212" width="6" height="3" fill="#ddd"/><rect x="741" y="217" width="13" height="2.5" fill="#ddd"/>
<rect x="780" y="193" width="8" height="3" fill="#ccc"/><path d="M789 195 L818 193 L818 197 L789 196 Z" fill="#eee"/>
<rect x="780" y="201" width="8" height="3" fill="#ccc"/><path d="M789 203 L818 201 L818 205 L789 204 Z" fill="#eee"/>
<rect x="780" y="209" width="6" height="2.5" fill="#666"/><circle cx="811" cy="210" r="1.5" fill="#ddd"/><circle cx="816" cy="210" r="1.2" fill="#bbb"/>
<rect x="782" y="232" width="5" height="10" fill="#bbb"/><rect x="794" y="227" width="9" height="6" fill="none" stroke="#ddd" stroke-width="0.9"/>
<circle cx="814" cy="235" r="3" fill="none" stroke="#ddd" stroke-width="0.9"/>
<path d="M784 231 V227 H794 M798 233 V238 H811" fill="none" stroke="#bbb" stroke-width="0.8"/>
<rect x="728.8" y="267" width="26.7" height="14" rx="2" fill="#1a1c1f" stroke="#3f7fa6" stroke-width="0.9"/>
<rect x="731.8" y="270" width="20.7" height="8" rx="1" fill="#d8d8d8"/>
<rect x="732.8" y="273.4" width="18.7" height="1.6" fill="#6a6a6a"/>
<rect x="730.8" y="263" width="22.7" height="1.2" fill="#3a6f90"/>
<rect x="761.5" y="267" width="26.7" height="14" rx="2" fill="#1a1c1f" stroke="#3f7fa6" stroke-width="0.9"/>
<rect x="764.5" y="270" width="20.7" height="8" rx="1" fill="#d8d8d8"/>
<rect x="765.5" y="273.4" width="18.7" height="1.6" fill="#6a6a6a"/>
<rect x="763.5" y="263" width="22.7" height="1.2" fill="#3a6f90"/>
<circle cx="796.9" cy="274" r="4.6" fill="#3aaee6"/><circle cx="796.9" cy="274" r="2" fill="#bfe8fb"/>
<rect x="804.3" y="265" width="18.8" height="18.2" rx="2.5" fill="#2fa6e0"/>
<circle cx="813.7" cy="274.1" r="4" fill="none" stroke="#d8f1ff" stroke-width="1.2"/>
<circle cx="830.6" cy="274" r="4.6" fill="#3aaee6"/><circle cx="830.6" cy="274" r="2" fill="#bfe8fb"/>
<text x="762" y="290" font-size="7.5" fill="#2f8fc4" text-anchor="middle" font-weight="bold" font-style="italic">GD AC</text>
<text x="779" y="296.3" font-size="5.6" fill="#2d6e96" text-anchor="middle" textLength="72" lengthAdjust="spacing">BATTERYCOMPUTER</text>
<path d="M734 294.4h6M818 294.4h6" stroke="#2d6e96" stroke-width="0.9"/>
<defs><linearGradient id="gg" x1="0" y1="1" x2="1" y2="0"><stop offset="0" stop-color="#2f8ee0"/><stop offset="0.6" stop-color="#33a9e0"/><stop offset="1" stop-color="#52d07a"/></linearGradient></defs>
<rect x="922.9" y="165.3" width="70.4" height="142.4" rx="9.5" fill="#5e5e61"/>
<rect x="925.9" y="168.1" width="64.4" height="136.8" rx="7.5" fill="#111213"/>
<rect x="927" y="169.2" width="62.2" height="134.6" rx="6.8" fill="#20344c"/>
<rect x="943.5" y="168.5" width="30" height="5.2" rx="2.5" fill="#0d0f12"/>
<text x="958.5" y="181" font-size="4.8" fill="#d5dee8" text-anchor="middle" font-weight="bold">EDECOR Remote</text><text x="931" y="181" font-size="5" fill="#c9d3de">‹</text><circle cx="985" cy="179.5" r="1.4" fill="#c9d3de"/>
<text x="931" y="191" font-size="4.2" fill="#b9c6d3">Edecor-ITV</text><rect x="971" y="188" width="14" height="4" fill="#2e8fd8"/>
<text x="931" y="172.5" font-size="3.6" fill="#d5dee8">9:41</text>
<path d="M968.78 200.74 A16 16 0 0 1 967.68 226.11" fill="none" stroke="#3a5a6c" stroke-width="2.9" stroke-linecap="round"/>
<path d="M949.32 226.11 A16 16 0 0 1 957.11 197.06" fill="none" stroke="#3b9fe2" stroke-width="2.9" stroke-linecap="round"/>
<path d="M956.27 197.16 A16 16 0 0 1 969.21 201.11" fill="none" stroke="#4ccf8c" stroke-width="2.9" stroke-linecap="round"/>
<text x="958.5" y="216.1" font-size="8.5" fill="#e6edf3" text-anchor="middle">50.6</text>
<rect x="933" y="236.5" width="5" height="4" fill="#3fbf6a"/><rect x="940" y="236.5" width="10" height="1.2" fill="#8ea0b2"/><rect x="940" y="240" width="6" height="1.2" fill="#3fbf6a"/>
<rect x="961" y="236.5" width="5" height="4" fill="#3aa0e0"/><rect x="968" y="236.5" width="10" height="1.2" fill="#8ea0b2"/><rect x="968" y="240" width="6" height="1.2" fill="#3aa0e0"/>
<rect x="929" y="248.39999999999998" width="59" height="8.6" rx="1.5" fill="#253b54"/>
<circle cx="934.5" cy="252.7" r="1.6" fill="none" stroke="#b9c6d3" stroke-width="0.8"/>
<text x="940" y="254.29999999999998" font-size="4.4" fill="#c9d3de">Balance</text><text x="984.5" y="254.2" font-size="4" fill="#9fb0c2" text-anchor="end">12.6V 98%</text>
<rect x="929" y="258.3" width="59" height="8.6" rx="1.5" fill="#253b54"/>
<circle cx="934.5" cy="262.6" r="1.6" fill="none" stroke="#b9c6d3" stroke-width="0.8"/>
<text x="940" y="264.20000000000005" font-size="4.4" fill="#c9d3de">Charger</text><text x="984.5" y="264.1" font-size="4" fill="#9fb0c2" text-anchor="end">14.4V 5A</text>
<rect x="929" y="268.2" width="59" height="8.6" rx="1.5" fill="#253b54"/>
<circle cx="934.5" cy="272.5" r="1.6" fill="none" stroke="#b9c6d3" stroke-width="0.8"/>
<text x="940" y="274.1" font-size="4.4" fill="#c9d3de">Load</text><text x="984.5" y="274.0" font-size="4" fill="#9fb0c2" text-anchor="end">230V 1.2A</text>
<rect x="929" y="278.2" width="59" height="8.6" rx="1.5" fill="#253b54"/>
<circle cx="934.5" cy="282.5" r="1.6" fill="none" stroke="#b9c6d3" stroke-width="0.8"/>
<text x="940" y="284.1" font-size="4.4" fill="#c9d3de">Settings</text><text x="984.5" y="284.0" font-size="4" fill="#9fb0c2" text-anchor="end">›</text>
<rect x="927" y="290" width="62.2" height="11" fill="#1c2e44"/>
<rect x="934.0" y="293.5" width="3.5" height="3.5" rx="1" fill="#3a9fe0"/>
<rect x="949.5" y="293.5" width="3.5" height="3.5" rx="1" fill="#6f8296"/>
<rect x="965.0" y="293.5" width="3.5" height="3.5" rx="1" fill="#6f8296"/>
<rect x="980.5" y="293.5" width="3.5" height="3.5" rx="1" fill="#6f8296"/>
<rect x="948" y="302" width="21" height="1.2" rx="0.6" fill="#cfd8e2"/>
<rect x="1045.2" y="187.8" width="95.4" height="97.7" rx="11" fill="#3c3c3d" stroke="#262627" stroke-width="1"/>
<g transform="translate(1064.5 206.8) skewX(-8) scale(8.714)" fill="none" stroke="#3ba9e3" stroke-width="0.241"  stroke-linejoin="miter"><path transform="translate(0.000 0) scale(0.84 1)" d="M1 0H0V1.4H1M0 0.68H0.85"/><path transform="translate(1.140 0) scale(0.84 1)" d="M0 0H0.72L1 0.28V1.12L0.72 1.4H0Z"/><path transform="translate(2.280 0) scale(0.84 1)" d="M1 0H0V1.4H1M0 0.68H0.85"/><path transform="translate(3.420 0) scale(0.84 1)" d="M1 0H0.2L0 0.2V1.2L0.2 1.4H1"/><path transform="translate(4.560 0) scale(0.84 1)" d="M0.2 0H0.8L1 0.2V1.2L0.8 1.4H0.2L0 1.2V0.2Z"/><path transform="translate(5.700 0) scale(0.84 1)" d="M0 1.4V0H0.8L1 0.2V0.55L0.8 0.72H0M0.55 0.72L1 1.4"/></g>
<text x="1105.6" y="233.6" font-size="9.6" fill="#5f95b8" text-anchor="middle" textLength="30.5" lengthAdjust="spacingAndGlyphs">ED:BW</text>
<rect x="1129" y="243" width="4" height="1" fill="#777"/>
<rect x="1129" y="252" width="4" height="1" fill="#777"/>
<rect x="1129" y="261" width="4" height="1" fill="#777"/>
<rect x="1046.7" y="265" width="92.4" height="4" fill="#47b3e8"/>
<rect x="1227.1" y="141.2" width="113.5" height="157.1" rx="8" fill="#161718"/>
<rect x="1232" y="146" width="103" height="148" rx="4" fill="#20344c"/>
<text x="1283" y="159" font-size="5" fill="#d5dee8" text-anchor="middle" font-weight="bold">EDECOR POWER APP</text><text x="1236" y="159" font-size="5" fill="#c9d3de">✎</text>
<text x="1236" y="151" font-size="3.2" fill="#c9d3de">9:41</text><rect x="1322" y="148.5" width="8" height="2" fill="#c9d3de"/>
<rect x="1235" y="165.4" width="100" height="49.6" rx="2" fill="#253b54"/>
<text x="1238" y="172.5" font-size="4.4" fill="#c9d3de">Balance %</text>
<path d="M1266.43 182.18 A15.3 15.3 0 0 1 1265.38 206.43" fill="none" stroke="#3a5a6c" stroke-width="3" stroke-linecap="round"/>
<path d="M1247.82 206.43 A15.3 15.3 0 0 1 1255.27 178.66" fill="none" stroke="#3b9fe2" stroke-width="3" stroke-linecap="round"/>
<path d="M1254.47 178.75 A15.3 15.3 0 0 1 1266.84 182.53" fill="none" stroke="#4ccf8c" stroke-width="3" stroke-linecap="round"/>
<text x="1256.6" y="196.6" font-size="7.5" fill="#e6edf3" text-anchor="middle">59%</text>
<path d="M1321.33 182.18 A15.3 15.3 0 0 1 1320.28 206.43" fill="none" stroke="#3a5a6c" stroke-width="3" stroke-linecap="round"/>
<path d="M1302.72 206.43 A15.3 15.3 0 0 1 1310.17 178.66" fill="none" stroke="#3b9fe2" stroke-width="3" stroke-linecap="round"/>
<path d="M1309.37 178.75 A15.3 15.3 0 0 1 1321.74 182.53" fill="none" stroke="#4ccf8c" stroke-width="3" stroke-linecap="round"/>
<text x="1311.5" y="196.6" font-size="7.5" fill="#e6edf3" text-anchor="middle">1C0r</text>
<rect x="1280" y="191" width="9" height="3" fill="#3aa0e0"/>
<rect x="1262" y="218" width="36" height="20" rx="1.5" fill="#253b54"/><rect x="1301" y="218" width="33" height="20" rx="1.5" fill="#253b54"/>
<rect x="1294" y="222" width="5" height="9" rx="1" fill="#3aa0e0"/><rect x="1307" y="229" width="12" height="1.5" fill="#5fbf6a"/>
<rect x="1262" y="242" width="72" height="9" rx="1.5" fill="#253b54"/><text x="1329" y="248" font-size="4" fill="#b9c6d3" text-anchor="end">View Details ›</text>
<rect x="1262" y="253" width="72" height="9" rx="1.5" fill="#253b54"/><text x="1329" y="259" font-size="4" fill="#b9c6d3" text-anchor="end">Analytics ›</text>
<rect x="1262" y="264" width="72" height="9" rx="1.5" fill="#253b54"/><text x="1329" y="270" font-size="4" fill="#b9c6d3" text-anchor="end">View Alerts</text>
<rect x="1262" y="275" width="72" height="9" rx="1.5" fill="#253b54"/><text x="1329" y="281" font-size="4" fill="#b9c6d3" text-anchor="end">›</text>
<rect x="1208.3" y="202.4" width="52.6" height="106.9" rx="8" fill="#77787b"/>
<rect x="1209.9" y="204" width="49.4" height="103.7" rx="6.8" fill="#141516"/>
<rect x="1211.4" y="205.5" width="46.4" height="100.7" rx="5.8" fill="#20344c"/>
<rect x="1225.5" y="205.5" width="18" height="3.6" rx="1.8" fill="#0d0f12"/>
<text x="1234.5" y="214.5" font-size="3.4" fill="#c9d3de" text-anchor="middle" font-weight="bold">EDECOR Remote</text>
<text x="1214" y="222" font-size="3.3" fill="#b9c6d3">Balance %</text><rect x="1244" y="219" width="10" height="3" fill="#2e8fd8"/>
<path d="M1242.21 229.38 A12.3 12.3 0 0 1 1241.35 248.88" fill="none" stroke="#3a5a6c" stroke-width="2.6" stroke-linecap="round"/>
<path d="M1227.25 248.88 A12.3 12.3 0 0 1 1233.23 226.55" fill="none" stroke="#3b9fe2" stroke-width="2.6" stroke-linecap="round"/>
<path d="M1232.59 226.62 A12.3 12.3 0 0 1 1242.53 229.66" fill="none" stroke="#4ccf8c" stroke-width="2.6" stroke-linecap="round"/>
<text x="1234.3" y="241.3" font-size="7" fill="#e6edf3" text-anchor="middle">16.4</text>
<rect x="1214" y="258" width="4" height="4" fill="#3fbf6a"/><rect x="1240" y="258" width="4" height="5" fill="#3aa0e0"/>
<rect x="1213" y="266.5" width="43" height="7" rx="1" fill="#263c55"/><rect x="1216" y="269.5" width="2" height="2" fill="#8ea0b2"/><rect x="1244" y="269.7" width="9" height="1.2" fill="#8ea0b2"/>
<rect x="1213" y="275.5" width="43" height="7" rx="1" fill="#263c55"/><rect x="1216" y="278.5" width="2" height="2" fill="#8ea0b2"/><rect x="1244" y="278.7" width="9" height="1.2" fill="#8ea0b2"/>
<rect x="1213" y="284.5" width="43" height="7" rx="1" fill="#263c55"/><rect x="1216" y="287.5" width="2" height="2" fill="#8ea0b2"/><rect x="1244" y="287.7" width="9" height="1.2" fill="#8ea0b2"/>
<rect x="1213" y="293.5" width="43" height="7" rx="1" fill="#263c55"/><rect x="1216" y="296.5" width="2" height="2" fill="#8ea0b2"/><rect x="1244" y="296.7" width="9" height="1.2" fill="#8ea0b2"/>
<rect x="1227" y="305" width="16" height="1" fill="#cfd8e2"/>
</svg></body></html>
